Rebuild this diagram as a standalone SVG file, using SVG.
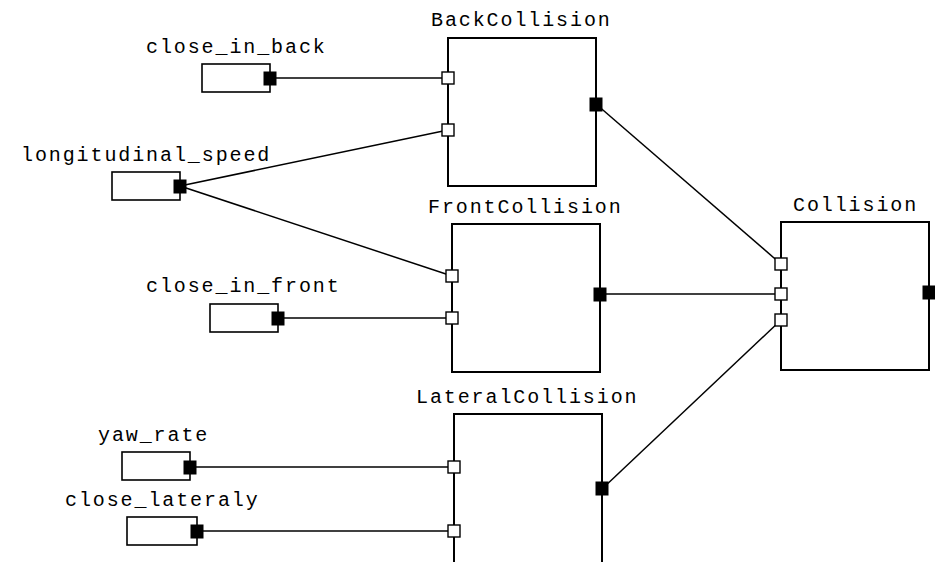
<svg xmlns="http://www.w3.org/2000/svg" width="935" height="562" viewBox="0 0 935 562">
  <style>
    .block { fill: #ffffff; stroke: #000000; stroke-width: 2; }
    .src { fill: #ffffff; stroke: #000000; stroke-width: 1.6; }
    .in { fill: #ffffff; stroke: #000000; stroke-width: 1.4; }
    .out { fill: #000000; stroke: #000000; stroke-width: 1; }
    .wire { fill: none; stroke: #000000; stroke-width: 1.5; }
    .lbl { font-family: "Liberation Mono", "DejaVu Sans Mono", monospace; font-size: 20px; letter-spacing: 1.9px; fill: #000000; }
  </style>
  <rect width="935" height="562" fill="#ffffff"/>

  <!-- wires -->
  <g id="connectors">
    <line class="wire" x1="270" y1="78" x2="448" y2="78"/>
    <line class="wire" x1="180" y1="186" x2="448" y2="130"/>
    <line class="wire" x1="180" y1="186" x2="452" y2="276"/>
    <line class="wire" x1="278" y1="318" x2="452" y2="318"/>
    <line class="wire" x1="190" y1="467" x2="454" y2="467"/>
    <line class="wire" x1="197" y1="531" x2="454" y2="531"/>
    <line class="wire" x1="596" y1="104" x2="781" y2="264"/>
    <line class="wire" x1="600" y1="294" x2="781" y2="294"/>
    <line class="wire" x1="602" y1="489" x2="781" y2="320"/>
  </g>

  <!-- signal sources -->
  <g id="close_in_back">
    <text class="lbl" x="146" y="53">close_in_back</text>
    <rect class="src" x="202" y="64" width="68" height="28"/>
    <rect class="out" x="264" y="72" width="12" height="13"/>
  </g>
  <g id="longitudinal_speed">
    <text class="lbl" x="21" y="161">longitudinal_speed</text>
    <rect class="src" x="112" y="172" width="68" height="28"/>
    <rect class="out" x="174" y="180" width="12" height="13"/>
  </g>
  <g id="close_in_front">
    <text class="lbl" x="146" y="292">close_in_front</text>
    <rect class="src" x="210" y="304" width="68" height="28"/>
    <rect class="out" x="272" y="312" width="12" height="13"/>
  </g>
  <g id="yaw_rate">
    <text class="lbl" x="98" y="441">yaw_rate</text>
    <rect class="src" x="122" y="452" width="68" height="28"/>
    <rect class="out" x="184" y="461" width="12" height="13"/>
  </g>
  <g id="close_lateraly">
    <text class="lbl" x="65" y="506">close_lateraly</text>
    <rect class="src" x="127" y="517" width="70" height="28"/>
    <rect class="out" x="191" y="525" width="12" height="13"/>
  </g>

  <!-- processing blocks -->
  <g id="BackCollision">
    <text class="lbl" x="431" y="26">BackCollision</text>
    <rect class="block" x="448" y="38" width="148" height="148"/>
    <rect class="in" x="442" y="72" width="12" height="12"/>
    <rect class="in" x="442" y="124" width="12" height="12"/>
    <rect class="out" x="590" y="98" width="12" height="13"/>
  </g>
  <g id="FrontCollision">
    <text class="lbl" x="428" y="213">FrontCollision</text>
    <rect class="block" x="452" y="224" width="148" height="148"/>
    <rect class="in" x="446" y="270" width="12" height="12"/>
    <rect class="in" x="446" y="312" width="12" height="12"/>
    <rect class="out" x="594" y="288" width="12" height="13"/>
  </g>
  <g id="LateralCollision">
    <text class="lbl" x="416" y="403">LateralCollision</text>
    <rect class="block" x="454" y="414" width="148" height="160"/>
    <rect class="in" x="448" y="461" width="12" height="12"/>
    <rect class="in" x="448" y="525" width="12" height="12"/>
    <rect class="out" x="596" y="482" width="12" height="13"/>
  </g>
  <g id="Collision">
    <text class="lbl" x="793" y="211">Collision</text>
    <rect class="block" x="781" y="222" width="148" height="148"/>
    <rect class="in" x="775" y="258" width="12" height="12"/>
    <rect class="in" x="775" y="288" width="12" height="12"/>
    <rect class="in" x="775" y="314" width="12" height="12"/>
    <rect class="out" x="923" y="286" width="12" height="13"/>
  </g>
</svg>
